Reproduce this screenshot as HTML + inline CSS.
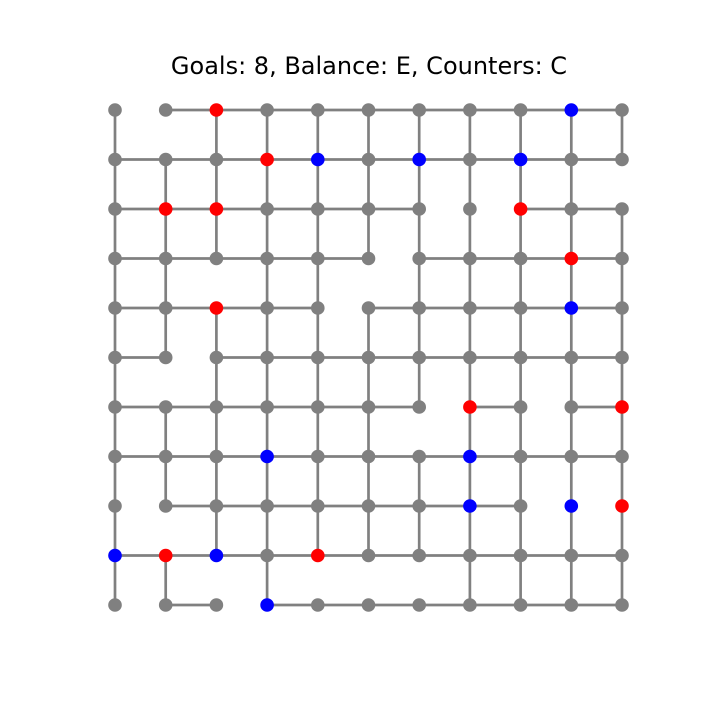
<!DOCTYPE html>
<html><head><meta charset="utf-8"><style>
body{margin:0;background:#fff}
svg{display:block}
</style></head><body>
<svg id="chart" width="720" height="720" viewBox="0 0 720 720">
<rect width="720" height="720" fill="#fff"/>
<text x="369" y="74" text-anchor="middle" font-family="DejaVu Sans, Liberation Sans, sans-serif" font-size="24" fill="#000">Goals: 8, Balance: E, Counters: C</text>
<g id="edges"></g>
<g id="nodes"></g>
</svg>
<script>
const hEdges = ["0111111111","1111111111","1111110011","1111101111","1111011111","1011111111","1111110101","1111111111","0111111100","1111111111","0101111111"];
const vEdges = ["1111111111","0111101101","1110111110","1111111111","1111111110","1110111110","1111110110","1111111111","1111111111","1111111111","1011111111"];
const redNodes = [[2,0],[3,1],[1,2],[2,2],[8,2],[9,3],[2,4],[7,6],[10,6],[10,8],[1,9],[4,9]];
const blueNodes = [[9,0],[4,1],[6,1],[8,1],[9,4],[3,7],[7,7],[7,8],[9,8],[0,9],[2,9],[3,10]];
const N = 11;
const sx = c => 115 + c * (622 - 115) / 10;
const sy = r => 110 + r * (605 - 110) / 10;
const NS = "http://www.w3.org/2000/svg";
const eg = document.getElementById('edges'), ng = document.getElementById('nodes');
function line(x1,y1,x2,y2,name){
  const l = document.createElementNS(NS,'line');
  l.setAttribute('x1',x1);l.setAttribute('y1',y1);l.setAttribute('x2',x2);l.setAttribute('y2',y2);
  l.setAttribute('stroke','#808080');l.setAttribute('stroke-width','2.7');
  
  
  eg.appendChild(l);
}
for(let r=0;r<N;r++) for(let c=0;c<N-1;c++) if(hEdges[r][c]==='1') line(sx(c),sy(r),sx(c+1),sy(r),'edge-h-'+r+'-'+c);
for(let c=0;c<N;c++) for(let r=0;r<N-1;r++) if(vEdges[c][r]==='1') line(sx(c),sy(r),sx(c),sy(r+1),'edge-v-'+c+'-'+r);
const colorOf = {};
redNodes.forEach(p=>colorOf[p[0]+','+p[1]]='#ff0000');
blueNodes.forEach(p=>colorOf[p[0]+','+p[1]]='#0000ff');
for(let r=0;r<N;r++) for(let c=0;c<N;c++){
  const ci = document.createElementNS(NS,'circle');
  ci.setAttribute('cx',sx(c));ci.setAttribute('cy',sy(r));ci.setAttribute('r','6.8');
  ci.setAttribute('fill',colorOf[c+','+r]||'#808080');
  
  
  ng.appendChild(ci);
}
</script>
</body></html>
